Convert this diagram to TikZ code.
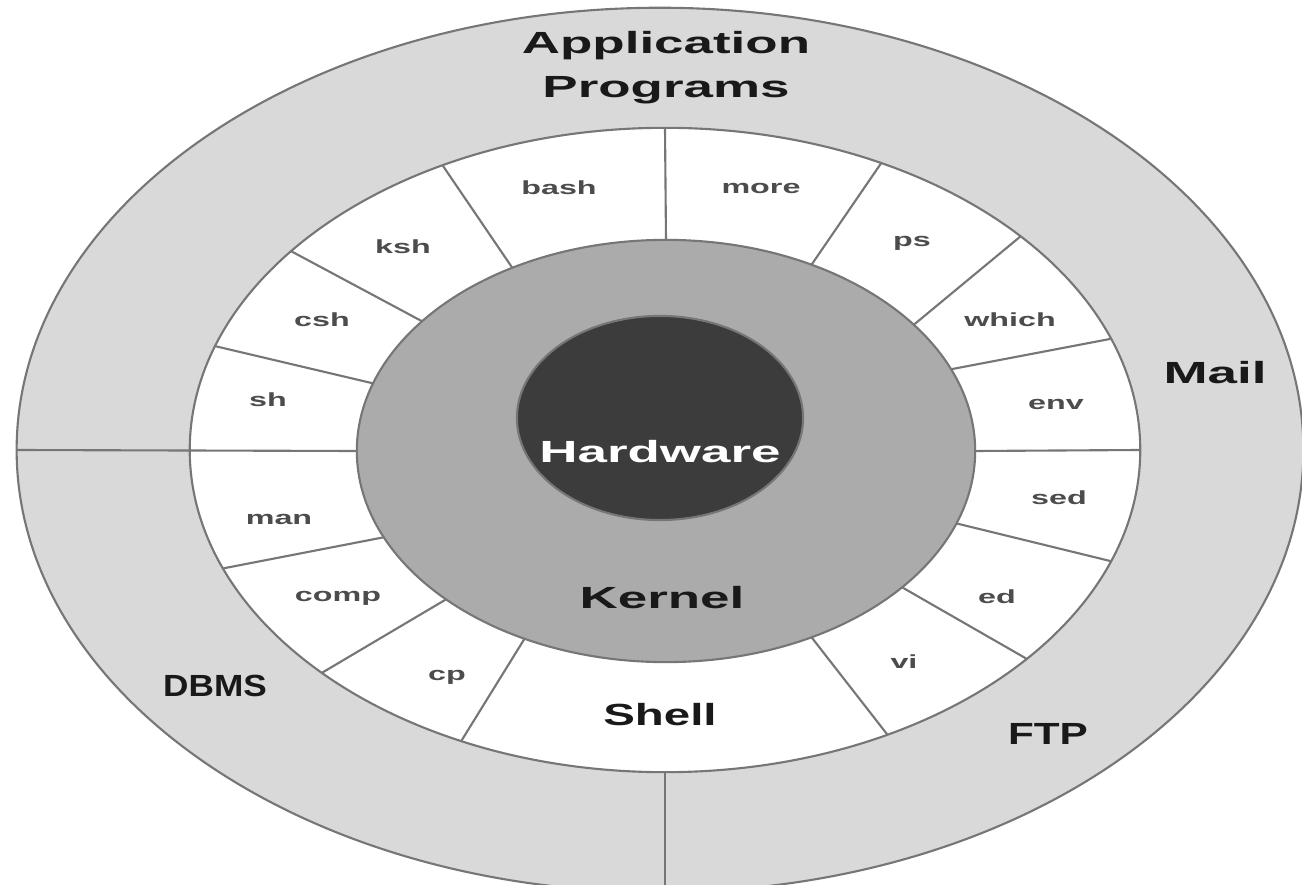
\documentclass[tikz,border=0pt]{standalone}
\usepackage{graphicx}
\usepackage{fontspec}
\setmainfont{Liberation Sans}
\usetikzlibrary{shapes.geometric}

\definecolor{outerring}{HTML}{D9D9D9}
\definecolor{kernelgray}{HTML}{ABABAB}
\definecolor{hwdark}{HTML}{3C3C3C}
\definecolor{ringline}{HTML}{767676}

\newcommand{\wide}[2][1.73]{\scalebox{#1}[1]{#2}}

\tikzset{
	ring/.style={ellipse, draw=ringline, line width=0.6pt, inner sep=0pt, outer sep=0pt},
	divider/.style={draw=ringline, line width=0.6pt},
	bigtext/.style={font=\bfseries\fontsize{8.7}{12.5}\selectfont, align=center, text=black!90},
	cmd/.style={font=\bfseries\fontsize{5.4}{6}\selectfont, text=black!70, inner sep=0pt},
}

\begin{document}
\begin{tikzpicture}[x=0.01cm,y=-0.01cm]
	\useasboundingbox (0,0) rectangle (1302,885);
	\fill[white] (0,0) rectangle (1302,885);

	% rings
	\node[ring, fill=outerring, minimum width=12.86cm, minimum height=8.84cm] (apps) at (660,450) {};
	\node[ring, fill=white, minimum width=9.50cm, minimum height=6.44cm] (shellring) at (665,450) {};
	\node[ring, fill=kernelgray, minimum width=6.18cm, minimum height=4.22cm] (kernel) at (666,451) {};
	\node[ring, fill=hwdark, minimum width=2.86cm, minimum height=2.04cm] (hw) at (660,418) {};

	% shell cells
	\draw[divider] (kernel.90) -- (shellring.90); \draw[divider] (kernel.52.5) -- (shellring.53.5);
	\draw[divider] (kernel.27) -- (shellring.31); \draw[divider] (kernel.16) -- (shellring.14);
	\draw[divider] (kernel.0) -- (shellring.0); \draw[divider] (kernel.-14.5) -- (shellring.-14);
	\draw[divider] (kernel.-30) -- (shellring.-30); \draw[divider] (kernel.-52) -- (shellring.-52.5);
	\draw[divider] (kernel.233) -- (shellring.235); \draw[divider] (kernel.214) -- (shellring.213);
	\draw[divider] (kernel.197) -- (shellring.195); \draw[divider] (kernel.180) -- (apps.180);
	\draw[divider] (kernel.167) -- (shellring.167.5); \draw[divider] (kernel.152) -- (shellring.152);
	\draw[divider] (kernel.130) -- (shellring.128.5);
	\draw[divider] (shellring.south) -- (shellring.south |- apps.south);

	% layer names
	\node[bigtext] (tapps) at (666,68) {\wide{Application}\\\wide{Programs}};
	\node[bigtext, text=white] (thw) at (660,452) {\wide{Hardware}};
	\node[bigtext] (tkernel) at (662,598) {\wide{Kernel}};
	\node[bigtext] (tshell) at (660,715) {\wide[1.55]{Shell}};
	\node[bigtext] (tmail) at (1215,373) {\wide{Mail}};
	\node[bigtext] (tdbms) at (215,686) {\wide[1.15]{DBMS}};
	\node[bigtext] (tftp) at (1048,734) {\wide[1.38]{FTP}};

	% commands
	\node[cmd] (cbash) at (559,188) {\wide[1.7]{bash}};
	\node[cmd] (cmore) at (761,188) {\wide[1.7]{more}};
	\node[cmd] (cksh) at (403,247) {\wide[1.7]{ksh}};
	\node[cmd] (cps) at (912,243) {\wide[1.7]{ps}};
	\node[cmd] (ccsh) at (322,320) {\wide[1.7]{csh}};
	\node[cmd] (cwhich) at (1010,320) {\wide[1.7]{which}};
	\node[cmd] (csh) at (268,400) {\wide[1.7]{sh}};
	\node[cmd] (cenv) at (1056,404) {\wide[1.7]{env}};
	\node[cmd] (cman) at (279,519) {\wide[1.7]{man}};
	\node[cmd] (csed) at (1059,498) {\wide[1.7]{sed}};
	\node[cmd] (ccomp) at (338,598) {\wide[1.7]{comp}};
	\node[cmd] (ced) at (997,597) {\wide[1.7]{ed}};
	\node[cmd] (ccp) at (447,677) {\wide[1.7]{cp}};
	\node[cmd] (cvi) at (904,662) {\wide[1.7]{vi}};
\end{tikzpicture}
\end{document}
